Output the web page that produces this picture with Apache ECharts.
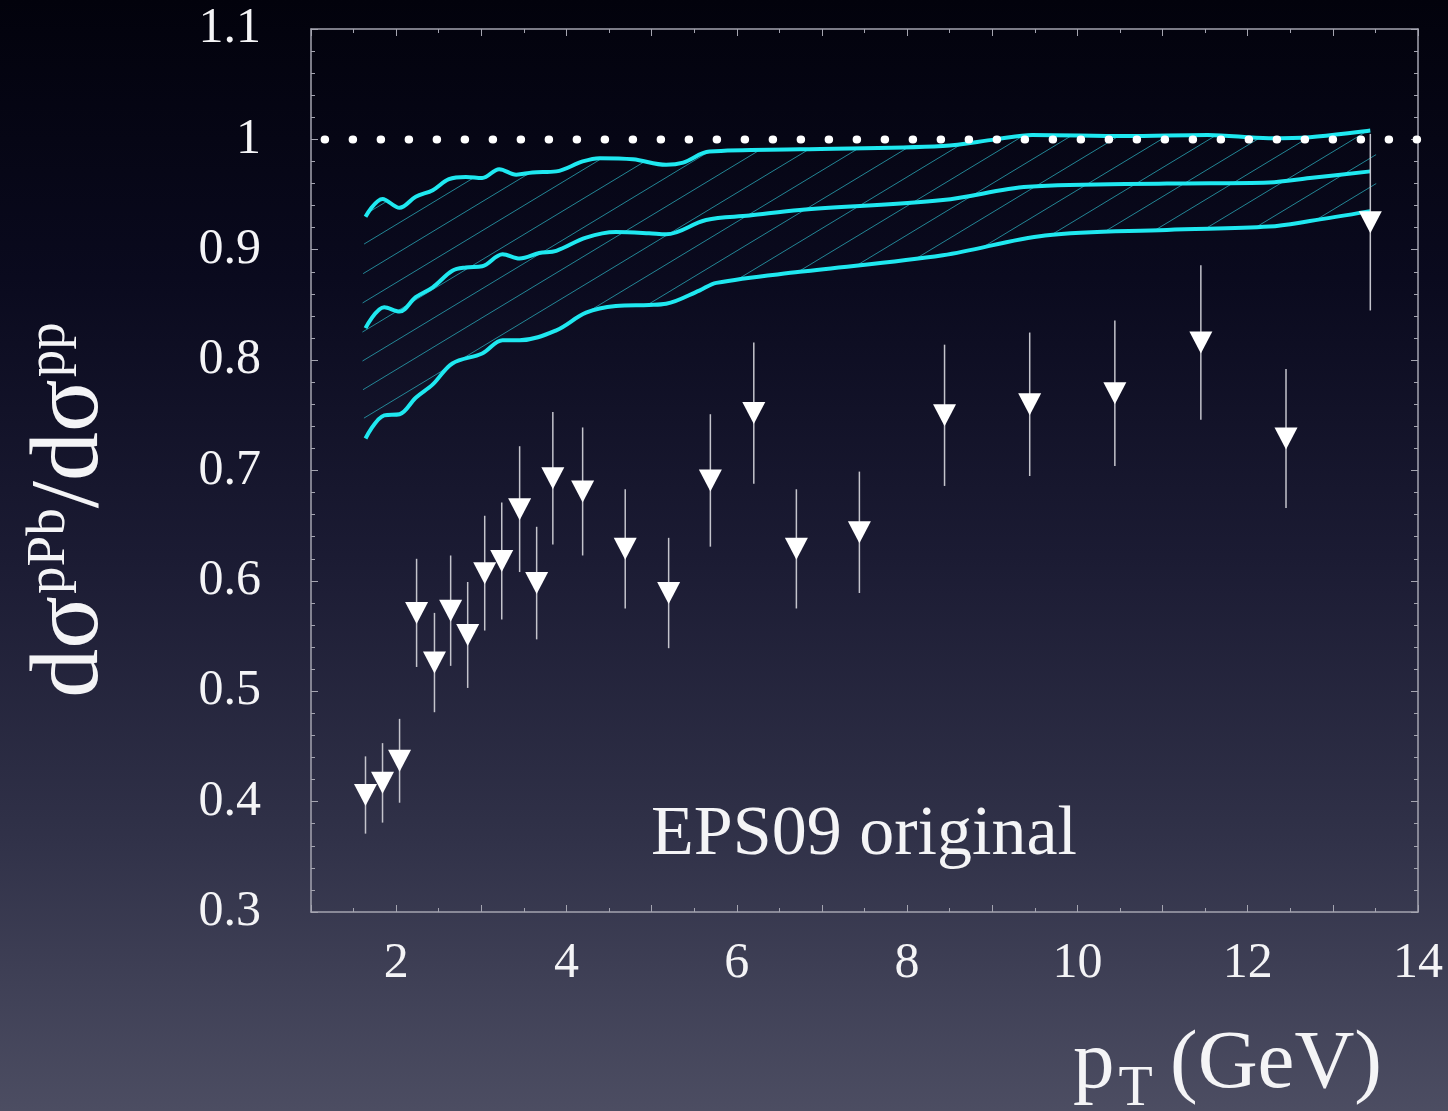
<!DOCTYPE html>
<html>
<head>
<meta charset="utf-8">
<script src="https://cdn.jsdelivr.net/npm/echarts@6/dist/echarts.min.js"></script>
<style>
  html, body { margin: 0; padding: 0; }
  #chart {
    width: 1448px;
    height: 1111px;
    background: linear-gradient(to bottom, #02020c 0%, #0a0a1e 25%, #1b1b33 50%, #303148 75%, #4c4d62 100%);
  }
</style>
</head>
<body>
<div id="chart"></div>
<script>
// EPS09 band: upper / central / lower curves, [pT, ratio]
const upperCurve = [[1.64,0.930],[1.84,0.946],[2.04,0.938],[2.23,0.948],[2.43,0.954],[2.62,0.964],[2.82,0.966],[3.01,0.965],[3.21,0.973],[3.41,0.968],[3.60,0.970],[3.88,0.971],[4.19,0.980],[4.39,0.983],[4.78,0.982],[5.17,0.977],[5.37,0.979],[5.68,0.989],[6.74,0.991],[8.42,0.994],[9.04,1.000],[9.47,1.004],[10.57,1.003],[11.53,1.004],[12.25,1.001],[12.73,1.002],[13.44,1.008]];
const centralCurve = [[1.64,0.829],[1.86,0.848],[2.04,0.844],[2.23,0.857],[2.43,0.866],[2.66,0.881],[2.82,0.884],[3.01,0.885],[3.25,0.896],[3.45,0.892],[3.68,0.897],[3.88,0.899],[4.23,0.911],[4.58,0.916],[4.97,0.915],[5.17,0.914],[5.64,0.927],[6.15,0.931],[6.74,0.936],[8.42,0.945],[9.42,0.957],[11.05,0.960],[12.25,0.961],[12.73,0.965],[13.44,0.971]];
const lowerCurve = [[1.64,0.729],[1.86,0.750],[2.04,0.751],[2.23,0.766],[2.43,0.778],[2.66,0.797],[3.01,0.806],[3.25,0.818],[3.45,0.818],[3.88,0.827],[4.23,0.843],[4.58,0.849],[4.97,0.850],[5.17,0.851],[5.56,0.863],[5.76,0.870],[6.74,0.880],[8.42,0.895],[9.62,0.913],[11.05,0.918],[12.25,0.921],[12.73,0.926],[13.44,0.935]];

// data points
const dataPt  = [1.64,1.84,2.04,2.24,2.45,2.64,2.84,3.04,3.24,3.45,3.65,3.84,4.19,4.69,5.20,5.69,6.20,6.70,7.44,8.44,9.44,10.44,11.45,12.45,13.44];
const dataVal = [0.406,0.417,0.437,0.571,0.526,0.573,0.551,0.607,0.618,0.665,0.598,0.693,0.681,0.629,0.589,0.691,0.752,0.629,0.644,0.750,0.760,0.770,0.816,0.729,0.925];
const dataErr = [0.035,0.036,0.038,0.049,0.045,0.050,0.048,0.052,0.053,0.057,0.051,0.060,0.058,0.054,0.050,0.060,0.064,0.054,0.055,0.064,0.065,0.066,0.070,0.063,0.080];

const unityLine = [[1.16, 1.0], [14, 1.0]];

const serif = "'Liberation Serif', 'DejaVu Serif', serif";
const frameColor = '#a4a4b0';
const cyan = '#1fe8f0';
const textColor = '#f4f4f6';

// hatch pattern for the band
function makeHatch() {
    const W = 48, H = 29;
    const c = document.createElement('canvas');
    c.width = W; c.height = H;
    const ctx = c.getContext('2d');
    ctx.strokeStyle = 'rgba(40,155,170,0.85)';
    ctx.lineWidth = 1;
    for (let k = -1; k <= 1; k++) {
        ctx.beginPath();
        ctx.moveTo(-W, 2 * H + k * H);
        ctx.lineTo(2 * W, -H + k * H);
        ctx.stroke();
    }
    return c;
}
const hatch = makeHatch();

// text width helper for laying out super/subscripts
const measureCtx = document.createElement('canvas').getContext('2d');
function textWidth(str, size) {
    measureCtx.font = size + 'px ' + serif;
    return measureCtx.measureText(str).width;
}

// piece of text placed by its baseline (middle is ~0.3em above baseline)
function piece(str, size, x, baseline) {
    return {
        type: 'text',
        x: x,
        y: baseline - 0.3 * size,
        style: {
            text: str, fontFamily: serif, fontSize: size, fill: textColor,
            align: 'left', verticalAlign: 'middle'
        }
    };
}

// x axis title: p_T(GeV)
function xTitle() {
    const big = 83, small = 56;
    const x0 = 1073, base = 1090;
    const xT = x0 + textWidth('p', big) + 4;
    return {
        type: 'group',
        children: [
            piece('p', big, x0, base),
            piece('T', small, xT, base + 17),
            piece('(GeV)', big, 1170, base)
        ]
    };
}

// y axis title: dσ^pPb / dσ^pp, rotated to read bottom-to-top
function yTitle() {
    const big = 98, small = 55;
    const mainBase = 101, supBase = 66;
    const parts = [['dσ', big], ['pPb', small], ['/dσ', big], ['pp', small]];
    let pos = 0;
    const children = [];
    parts.forEach(([s, size]) => {
        const isSup = size === small;
        if (isSup) pos += 2;
        children.push(piece(s, size, pos, isSup ? supBase : mainBase));
        pos += textWidth(s, size);
    });
    return {
        type: 'group',
        x: 0,
        y: 510 + pos / 2,
        rotation: Math.PI / 2,
        children: children
    };
}

const chart = echarts.init(document.getElementById('chart'));

const points = dataPt.map((x, i) => [x, dataVal[i], dataErr[i]]);

function curve(data) {
    return {
        type: 'line',
        data: data,
        smooth: 0.35,
        showSymbol: false,
        symbol: 'none',
        lineStyle: { color: cyan, width: 4 },
        z: 3,
        silent: true
    };
}

const option = {
    backgroundColor: 'transparent',
    animation: false,
    grid: { left: 311, right: 30, top: 29, bottom: 199 },
    xAxis: [{
        type: 'value', min: 1, max: 14, interval: 1,
        axisLine: { show: true, onZero: false, lineStyle: { color: frameColor, width: 1.5 } },
        axisTick: { show: true, inside: true, length: 7, lineStyle: { color: frameColor } },
        minorTick: { show: true, splitNumber: 2, length: 4, lineStyle: { color: frameColor } },
        splitLine: { show: false },
        axisLabel: {
            margin: 27, color: textColor, fontFamily: serif, fontSize: 50,
            formatter: v => (v % 2 === 0 ? String(v) : '')
        }
    }, {
        type: 'value', min: 1, max: 14, interval: 1, position: 'top',
        axisLine: { show: true, onZero: false, lineStyle: { color: frameColor, width: 1.5 } },
        axisTick: { show: true, inside: true, length: 7, lineStyle: { color: frameColor } },
        minorTick: { show: true, splitNumber: 2, length: 4, lineStyle: { color: frameColor } },
        splitLine: { show: false },
        axisLabel: { show: false }
    }],
    yAxis: [{
        type: 'value', min: 0.3, max: 1.1, interval: 0.1,
        axisLine: { show: true, onZero: false, lineStyle: { color: frameColor, width: 1.5 } },
        axisTick: { show: true, inside: true, length: 7, lineStyle: { color: frameColor } },
        minorTick: { show: true, splitNumber: 5, length: 4, lineStyle: { color: frameColor } },
        splitLine: { show: false },
        axisLabel: {
            margin: 50, color: textColor, fontFamily: serif, fontSize: 50,
            formatter: v => String(Math.round(v * 10) / 10)
        }
    }, {
        type: 'value', min: 0.3, max: 1.1, interval: 0.1, position: 'right',
        axisLine: { show: true, onZero: false, lineStyle: { color: frameColor, width: 1.5 } },
        axisTick: { show: true, inside: true, length: 7, lineStyle: { color: frameColor } },
        minorTick: { show: true, splitNumber: 5, length: 4, lineStyle: { color: frameColor } },
        splitLine: { show: false },
        axisLabel: { show: false }
    }],
    series: [
        {
            // hatched band between upper and lower curve
            type: 'custom',
            data: [0],
            clip: true,
            silent: true,
            z: 1,
            renderItem: function (params, api) {
                const pts = upperCurve.map(p => api.coord(p));
                for (let i = lowerCurve.length - 1; i >= 0; i--) {
                    pts.push(api.coord(lowerCurve[i]));
                }
                return {
                    type: 'polygon',
                    shape: { points: pts, smooth: 0.25 },
                    style: { fill: { image: hatch, repeat: 'repeat' }, stroke: null }
                };
            }
        },
        curve(upperCurve),
        curve(centralCurve),
        curve(lowerCurve),
        {
            type: 'line',
            data: unityLine,
            showSymbol: false,
            symbol: 'none',
            lineStyle: { color: '#ffffff', width: 8, type: [0.5, 27.5], cap: 'round' },
            z: 5,
            silent: true
        },
        {
            // error bars
            type: 'custom',
            data: points,
            z: 4,
            silent: true,
            renderItem: function (params, api) {
                const x = api.value(0), y = api.value(1), e = api.value(2);
                const top = api.coord([x, y + e]);
                const bot = api.coord([x, y - e]);
                return {
                    type: 'line',
                    shape: { x1: top[0], y1: top[1], x2: bot[0], y2: bot[1] },
                    style: { stroke: '#c4c4cc', lineWidth: 1.5 }
                };
            }
        },
        {
            type: 'scatter',
            data: points.map(p => [p[0], p[1]]),
            symbol: 'triangle',
            symbolRotate: 180,
            symbolSize: [23, 22],
            itemStyle: { color: '#ffffff', opacity: 1 },
            z: 6,
            silent: true
        }
    ],
    graphic: [
        {
            type: 'text',
            x: 864, y: 836,
            style: {
                text: 'EPS09 original',
                fontFamily: serif,
                fontSize: 70,
                fill: textColor,
                align: 'center',
                verticalAlign: 'middle'
            }
        },
        xTitle(),
        yTitle()
    ]
};

chart.setOption(option);
</script>
</body>
</html>
